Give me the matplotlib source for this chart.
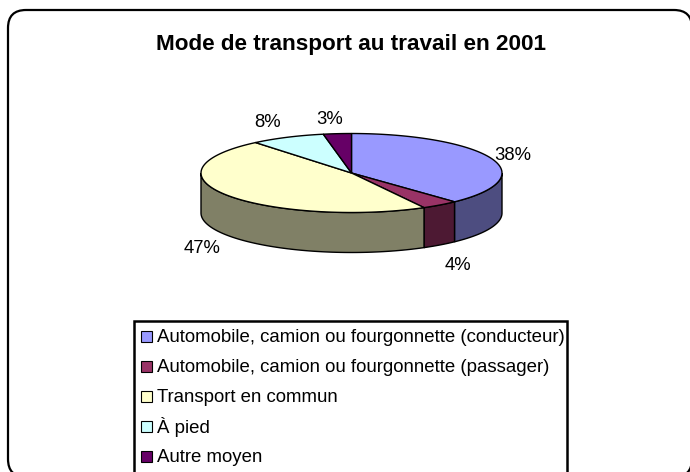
import matplotlib
matplotlib.use("Agg")
import matplotlib.pyplot as plt
from matplotlib.patches import FancyBboxPatch, Rectangle, Polygon
import numpy as np

plt.rcParams["font.family"] = ["Liberation Sans", "DejaVu Sans"]

title = "Mode de transport au travail en 2001"
categories = [
    "Automobile, camion ou fourgonnette (conducteur)",
    "Automobile, camion ou fourgonnette (passager)",
    "Transport en commun",
    "À pied",
    "Autre moyen",
]
values = [38, 4, 47, 8, 3]
top_colors = ["#9999FF", "#993366", "#FFFFCC", "#CCFFFF", "#660066"]
side_colors = ["#4D4D80", "#4D1933", "#808066", "#668080", "#330033"]

# pie geometry, in pixels of the picture
cx, cy, rx, ry, depth = 351.5, 173.0, 150.5, 39.5, 40.0
label_pos = [(513, 155.5), (458, 265.5), (202, 248.5), (268, 122.5), (330, 119.5)]


def rim(a0, a1, n=80):
    # angles clockwise from 12 o'clock, degrees
    t = np.radians(np.linspace(a0, a1, n))
    return cx + rx * np.sin(t), cy - ry * np.cos(t)


fig = plt.figure(figsize=(6.9, 4.72), dpi=100)
ax = fig.add_axes([0, 0, 1, 1])
ax.set_xlim(0, 690)
ax.set_ylim(472, 0)
ax.axis("off")

# rounded chart frame, runs off the bottom and right
ax.add_patch(FancyBboxPatch((26, 28), 648, 431, boxstyle="round,pad=18,rounding_size=18",
                            fc="white", ec="black", lw=1.6, zorder=1))

ax.text(351, 44.5, title, ha="center", va="center", fontsize=16.2, fontweight="bold", zorder=5)

# slices
edges = np.cumsum([0] + values) * 3.6
for i in range(len(values)):
    a0, a1 = edges[i], edges[i + 1]
    # side wall, only the front half of the rim shows
    s0, s1 = max(a0, 90), min(a1, 270)
    if s1 > s0:
        x, y = rim(s0, s1)
        pts = np.r_[np.c_[x, y], np.c_[x[::-1], y[::-1] + depth]]
        ax.add_patch(Polygon(pts, fc=side_colors[i], ec="black", lw=1.0, zorder=2))
for i in range(len(values)):
    x, y = rim(edges[i], edges[i + 1])
    pts = np.r_[[[cx, cy]], np.c_[x, y]]
    ax.add_patch(Polygon(pts, fc=top_colors[i], ec="black", lw=1.0, zorder=3))

for v, (lx, ly) in zip(values, label_pos):
    ax.text(lx, ly, f"{v}%", ha="center", va="center", fontsize=13.3, zorder=5)

# legend box, cut by the bottom of the picture
ax.add_patch(Rectangle((133.5, 321), 433, 170, fc="white", ec="black", lw=1.8, zorder=4))
for i, name in enumerate(categories):
    yy = 336.5 + i * 29.9
    ax.add_patch(Rectangle((141, yy - 5.5), 11, 11, fc=top_colors[i], ec="black", lw=0.8, zorder=5))
    ax.text(157, yy + 1, name, ha="left", va="center", fontsize=13.4, zorder=5)

fig.savefig("out.png", dpi=100)
